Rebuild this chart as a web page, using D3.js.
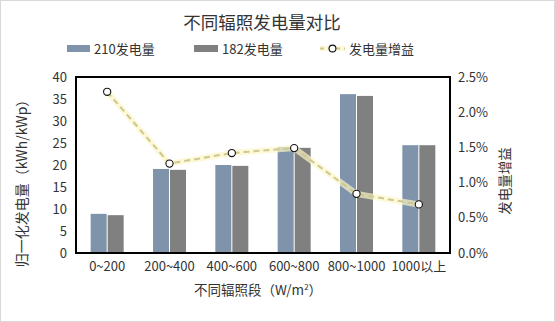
<!DOCTYPE html>
<html>
<head>
<meta charset="utf-8">
<script src="https://cdn.jsdelivr.net/npm/d3@7"></script>
<style>
  html, body { margin: 0; padding: 0; background: #fff; }
  svg { display: block; font-family: "Noto Sans CJK SC", "Noto Sans", sans-serif; }
</style>
</head>
<body>
<svg id="chart" width="555" height="322"></svg>
<script>
// Irradiance bands (W/m²)
const categories = ["0~200", "200~400", "400~600", "600~800", "800~1000", "1000以上"];
// Normalized yield (kWh/kWp)
const yield210 = [8.9, 19.1, 20.0, 24.1, 36.1, 24.5];
const yield182 = [8.6, 18.9, 19.8, 23.9, 35.7, 24.5];
// Yield gain of 210 over 182 (fraction)
const gain = [0.0229, 0.0127, 0.0142, 0.0149, 0.0084, 0.0069];
// Axis ticks
const leftTicks = [0, 5, 10, 15, 20, 25, 30, 35, 40];
const rightTicks = [0, 0.005, 0.01, 0.015, 0.02, 0.025];

const seriesNames = ["210发电量", "182发电量", "发电量增益"];
const colors = { s210: "#7f93ab", s182: "#808080", line: "#cdc892", glow: "#fcf6c8" };

const svg = d3.select("#chart");
const W = 555, H = 322;
const m = { left: 76, right: W - 450, top: 77, bottom: H - 253 };

// outer frame
svg.append("rect").attr("x", 0.5).attr("y", 0.5).attr("width", W - 1).attr("height", H - 1)
  .attr("fill", "#fff").attr("stroke", "#d9d9d9");

const x = d3.scaleBand().domain(categories).range([m.left, W - m.right]);
const yL = d3.scaleLinear().domain([0, 40]).range([H - m.bottom, m.top]);
const yR = d3.scaleLinear().domain([0, 0.025]).range([H - m.bottom, m.top]);

const barW = 16, gap = 1;

// bars
const g = svg.append("g");
g.selectAll(".b210").data(categories).join("rect")
  .attr("x", d => x(d) + x.bandwidth() / 2 - barW - gap / 2)
  .attr("y", (d, i) => yL(yield210[i]))
  .attr("width", barW)
  .attr("height", (d, i) => yL(0) - yL(yield210[i]))
  .attr("fill", colors.s210);
g.selectAll(".b182").data(categories).join("rect")
  .attr("x", d => x(d) + x.bandwidth() / 2 + gap / 2)
  .attr("y", (d, i) => yL(yield182[i]))
  .attr("width", barW)
  .attr("height", (d, i) => yL(0) - yL(yield182[i]))
  .attr("fill", colors.s182);

// gain line with soft glow
const line = d3.line().x((d, i) => x(categories[i]) + x.bandwidth() / 2).y(d => yR(d));
svg.append("path").datum(gain).attr("d", line).attr("fill", "none")
  .attr("stroke", colors.glow).attr("stroke-width", 6).attr("stroke-opacity", 0.7);
svg.append("path").datum(gain).attr("d", line).attr("fill", "none")
  .attr("stroke", colors.line).attr("stroke-width", 2).attr("stroke-dasharray", "6,4");
svg.selectAll(".pt").data(gain).join("circle")
  .attr("cx", (d, i) => x(categories[i]) + x.bandwidth() / 2)
  .attr("cy", d => yR(d))
  .attr("r", 3.6).attr("fill", "#fff").attr("stroke", "#111").attr("stroke-width", 1.1);

// plot frame
svg.append("rect").attr("x", m.left).attr("y", m.top)
  .attr("width", W - m.right - m.left).attr("height", H - m.bottom - m.top)
  .attr("fill", "none").attr("stroke", "#000").attr("stroke-width", 2);

// axes
const axL = svg.append("g").attr("transform", `translate(${m.left},0)`)
  .call(d3.axisLeft(yL).tickValues(leftTicks).tickSize(0).tickPadding(9));
const axR = svg.append("g").attr("transform", `translate(${W - m.right},0)`)
  .call(d3.axisRight(yR).tickValues(rightTicks).tickSize(0).tickPadding(8).tickFormat(d3.format(".1%")));
const axB = svg.append("g").attr("transform", `translate(0,${H - m.bottom})`)
  .call(d3.axisBottom(x).tickSize(0).tickPadding(9));
[axL, axR, axB].forEach(a => {
  a.select(".domain").remove();
  a.selectAll("text").attr("font-size", 13).attr("fill", "#333")
    .attr("font-family", "'Noto Sans CJK SC', sans-serif");
});

// titles
svg.append("text").attr("x", 262).attr("y", 29).attr("text-anchor", "middle")
  .attr("font-size", 17.5).attr("fill", "#333").text("不同辐照发电量对比");
svg.append("text").attr("x", 258).attr("y", 295).attr("text-anchor", "middle")
  .attr("font-size", 13.5).attr("fill", "#333")
  .html("不同辐照段（W/m<tspan dy='-5' font-size='8'>2</tspan><tspan dy='5'>）</tspan>");
svg.append("text").attr("transform", "translate(27,180) rotate(-90)").attr("text-anchor", "middle")
  .attr("font-size", 14).attr("fill", "#333").text("归一化发电量（kWh/kWp）");
svg.append("text").attr("transform", "translate(510,181) rotate(-90)").attr("text-anchor", "middle")
  .attr("font-size", 13.5).attr("fill", "#333").text("发电量增益");

// legend
const lg = svg.append("g");
lg.append("rect").attr("x", 67).attr("y", 45).attr("width", 23).attr("height", 7).attr("fill", colors.s210);
lg.append("text").attr("x", 94).attr("y", 53.5).attr("font-size", 13).attr("fill", "#333").text(seriesNames[0]);
lg.append("rect").attr("x", 194).attr("y", 45).attr("width", 24).attr("height", 7).attr("fill", colors.s182);
lg.append("text").attr("x", 222).attr("y", 53.5).attr("font-size", 13).attr("fill", "#333").text(seriesNames[1]);
lg.append("line").attr("x1", 320).attr("x2", 345).attr("y1", 48.5).attr("y2", 48.5)
  .attr("stroke", colors.glow).attr("stroke-width", 5).attr("stroke-opacity", 0.7);
lg.append("line").attr("x1", 320).attr("x2", 345).attr("y1", 48.5).attr("y2", 48.5)
  .attr("stroke", colors.line).attr("stroke-width", 1.8).attr("stroke-dasharray", "4,4");
lg.append("circle").attr("cx", 332.5).attr("cy", 48.5).attr("r", 3.4)
  .attr("fill", "#fff").attr("stroke", "#111").attr("stroke-width", 1.1);
lg.append("text").attr("x", 349).attr("y", 53.5).attr("font-size", 13).attr("fill", "#333").text(seriesNames[2]);
</script>
</body>
</html>
